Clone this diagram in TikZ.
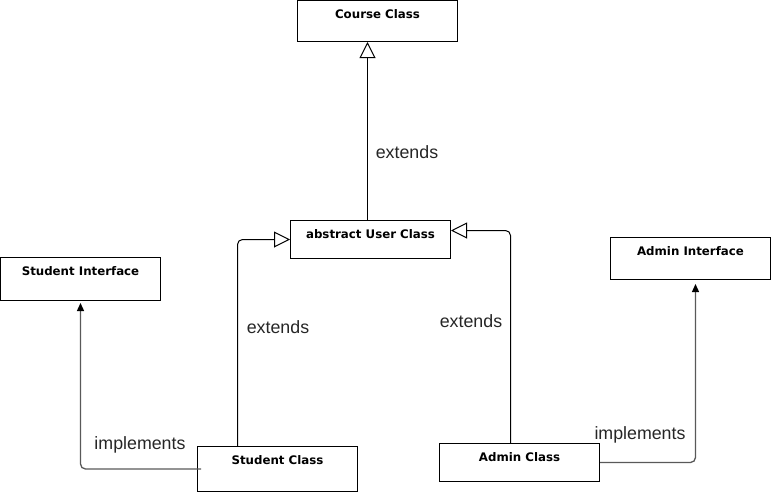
\documentclass[tikz,border=0pt]{standalone}
\usepackage{fontspec}
\setmainfont{Liberation Sans}
\newfontfamily\boxfont{DejaVu Sans}
\usetikzlibrary{arrows.meta}
\tikzset{
  x=1pt, y=-1pt,
  cls/.style={draw, line width=1pt, minimum width=160pt, inner sep=0pt, anchor=north west},
  clslbl/.style={font=\boxfont\bfseries\fontsize{11.8}{14}\selectfont, anchor=base},
  ext/.style={line width=1pt, rounded corners=5pt, -{Triangle[open, length=16pt, width=16pt, line width=1pt]}},
  impl/.style={line width=1.3pt, draw=black!65, rounded corners=5pt, -{Stealth[length=8pt, width=7pt, inset=0pt, black]}},
  elbl/.style={font=\fontsize{17.8}{20}\selectfont, text=black!85, inner sep=0pt}
}
\begin{document}
\begin{tikzpicture}
\useasboundingbox (0,0) rectangle (772,493);
\node[cls, minimum height=41pt, label={[clslbl, yshift=-18pt]north:Course Class}] (cc) at (297,0) {};
\node[cls, minimum height=38pt, label={[clslbl, yshift=-18pt]north:abstract User Class}] (user) at (290,220) {};
\node[cls, minimum height=43pt, label={[clslbl, yshift=-18pt]north:Student Interface}] (si) at (0,257) {};
\node[cls, minimum height=42pt, label={[clslbl, yshift=-18pt]north:Admin Interface}] (ai) at (610,237) {};
\node[cls, minimum height=45pt, label={[clslbl, yshift=-18pt]north:Student Class}] (sc) at (197,446) {};
\node[cls, minimum height=38pt, label={[clslbl, yshift=-18pt]north:Admin Class}] (ac) at (439,443) {};

\draw[ext] ([xshift=-3pt]user.north) -- ([xshift=-3pt]user.north |- cc.south);
\draw[ext] ([xshift=-40pt]sc.north) |- (user.west);
\draw[ext] ([xshift=-9pt]ac.north) |- ([yshift=9pt]user.east);
\draw[impl] ([xshift=4pt]sc.west) -| ([yshift=-2pt]si.south);
\draw[impl] (ac.east) -| ([xshift=5pt, yshift=-4pt]ai.south);

\node[elbl] (l1) at (407,152) {extends};
\node[elbl] (l2) at (278,327) {extends};
\node[elbl] (l3) at (471,321) {extends};
\node[elbl] (l4) at (140,445) {implements};
\node[elbl] (l5) at (640,435) {implements};
\end{tikzpicture}
\end{document}
